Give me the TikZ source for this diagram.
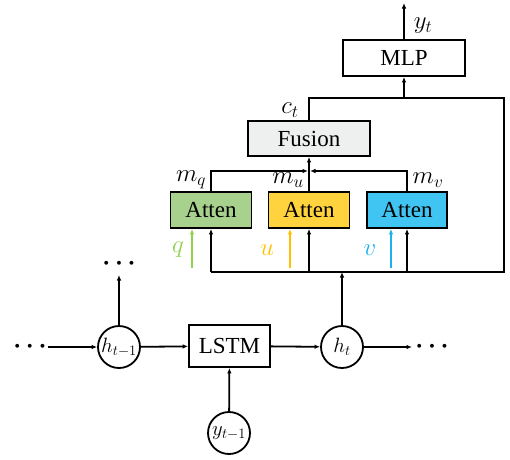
\documentclass[tikz,border=0pt]{standalone}
\usepackage{fontspec}
\setmainfont{Liberation Serif}
\usetikzlibrary{arrows.meta}
\definecolor{attg}{HTML}{A9D18E}
\definecolor{atty}{HTML}{FFD33D}
\definecolor{attb}{HTML}{40C4F2}
\definecolor{qcol}{HTML}{92D050}
\definecolor{ucol}{HTML}{FFC000}
\definecolor{vcol}{HTML}{1CB2EC}
\definecolor{fusfill}{HTML}{EEEFEF}
\begin{document}
\begin{tikzpicture}[x=1pt,y=-1pt,
  line width=1.8pt,
  >={Latex[length=5.5pt,width=4.5pt]},
  box/.style={draw, rectangle, inner sep=0pt, font=\fontsize{23}{25}\selectfont},
  state/.style={draw, circle, minimum size=42pt, inner sep=0pt, font=\fontsize{22}{24}\selectfont},
  lab/.style={inner sep=0pt, font=\fontsize{24}{26}\selectfont},
  dots/.style={inner sep=0pt, font=\fontsize{30}{32}\selectfont\boldmath}]
\useasboundingbox (0,0) rectangle (510,459);

% processing blocks
\node[box, minimum width=122pt, minimum height=36pt] (mlp) at (404,58) {MLP};
\node[box, fill=fusfill, minimum width=122pt, minimum height=35pt] (fusion) at (309,138.5) {Fusion};
\node[box, fill=attg, minimum width=81pt, minimum height=36pt] (attq) at (211,210) {Atten};
\node[box, fill=atty, minimum width=81pt, minimum height=36pt] (attu) at (309,210) {Atten};
\node[box, fill=attb, minimum width=80pt, minimum height=36pt] (attv) at (407,210) {Atten};
\node[box, minimum width=81pt, minimum height=42pt] (lstm) at (229.5,346) {LSTM};

% recurrent states
\node[state] (hp) at (119,347) {$h_{t-1}$};
\node[state] (ht) at (342,347) {$h_t$};
\node[state] (yp) at (229,433) {$y_{t-1}$};

% continuation dots
\node[dots] (dl) at (30,347) {$\cdots$};
\node[dots] (dr) at (432,347) {$\cdots$};
\node[dots] (du) at (119,264) {$\cdots$};

% helper points of the wiring
\coordinate (busL) at (211,272);
\coordinate (busR) at (504,272);
\coordinate (topR) at (504,98);
\coordinate (mj) at (309,171);
\coordinate (yout) at (404,3);
\coordinate (qin) at (192,268);
\coordinate (uin) at (290,268);
\coordinate (vin) at (391,268);
\coordinate (dls) at (48,347);
\coordinate (dre) at (412,347);
\coordinate (dus) at (119,275);

% LSTM chain
\draw[->] (dls) -- (hp);
\draw[->] (hp) -- (lstm);
\draw[->] (lstm) -- (ht);
\draw[->] (ht) -- (dre);
\draw[->] (hp) -- (dus);
\draw[->] (yp) -- (lstm);

% hidden state bus
\draw[->] (ht) -- (ht |- busL);
\draw (busL) -- (busR) -- (topR) -- (fusion.north |- topR) -- (fusion.north);
\draw[->] (mlp.south |- topR) -- (mlp.south);
\draw[->] (mlp.north) -- (yout);
\draw[->] (busL) -- (attq.south);
\draw[->] (attu.south |- busL) -- (attu.south);
\draw[->] (attv.south |- busL) -- (attv.south);

% modality inputs
\draw[->, qcol] (qin) -- (qin |- attq.south);
\draw[->, ucol] (uin) -- (uin |- attu.south);
\draw[->, vcol] (vin) -- (vin |- attv.south);

% attention outputs into fusion
\draw[->] (attq.north) |- ([xshift=-1pt]mj);
\draw[->] (attv.north) |- ([xshift=1pt]mj);
\draw[->] (attu.north) -- (fusion.south);

% labels
\node[lab, text=qcol] (lq) at (178,250) {$q$};
\node[lab, text=ucol] (lu) at (267,250) {$u$};
\node[lab, text=vcol] (lv) at (370,250) {$v$};
\node[lab] (lmq) at (191,180) {$m_q$};
\node[lab] (lmu) at (288,180) {$m_u$};
\node[lab] (lmv) at (428,180) {$m_v$};
\node[lab] (lct) at (290,110) {$c_t$};
\node[lab] (lyt) at (423,26) {$y_t$};
\end{tikzpicture}
\end{document}
